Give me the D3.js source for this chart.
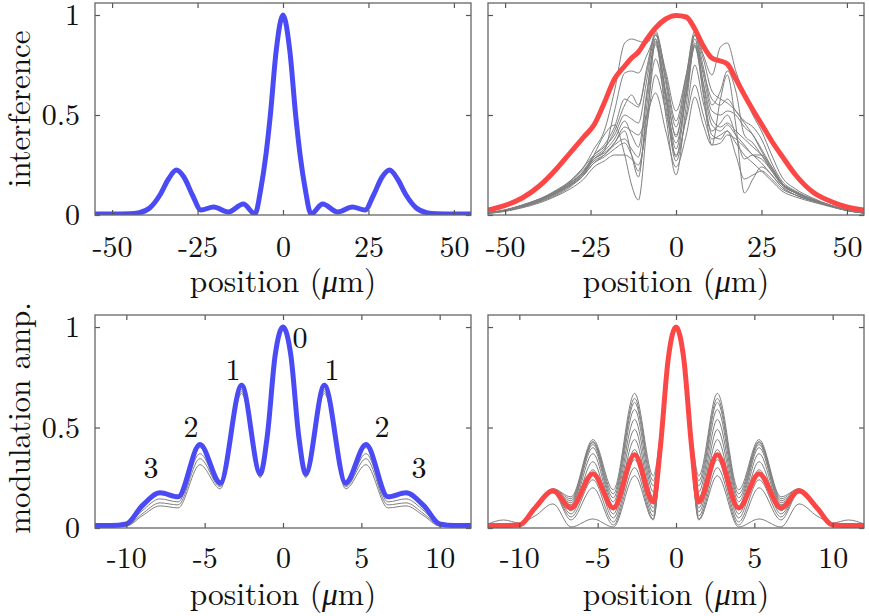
<!DOCTYPE html>
<html>
<head>
<meta charset="utf-8">
<script src="https://cdn.jsdelivr.net/npm/d3@7"></script>
<style>
body { margin: 0; background: #fff; }
</style>
</head>
<body>
<svg width="869" height="616"></svg>
<script>
// ---- data ----
var yTicks = [0, 0.5, 1];
var xTicksWide = [-50, -25, 0, 25, 50];
var xTicksNarrow = [-10, -5, 0, 5, 10];

// top left: interference, simulated
var xTL = [-55,-50,-45,-42,-39,-36,-33.5,-31.2,-29,-26.5,-24,-20.3,-16,-11.6,-8.2,-6.5,-5,-3.7,-2,0,2,3.7,5,6.5,8.2,11.6,16,20.3,24,26.5,29,31.2,33.5,36,39,42,45,50,55];
var blueTL = [0.005,0.005,0.006,0.012,0.035,0.1,0.18,0.225,0.19,0.1,0.025,0.04,0.015,0.055,0.005,0.13,0.3,0.5,0.82,1.0,0.82,0.5,0.3,0.13,0.005,0.055,0.015,0.04,0.025,0.1,0.19,0.225,0.18,0.1,0.035,0.012,0.006,0.005,0.005];
var grayTL1 = [0.004,0.004,0.005,0.01,0.03,0.09,0.17,0.215,0.185,0.095,0.022,0.038,0.014,0.05,0.004,0.12,0.29,0.49,0.8,0.975,0.8,0.49,0.29,0.12,0.004,0.05,0.014,0.038,0.022,0.095,0.185,0.215,0.17,0.09,0.03,0.01,0.005,0.004,0.004];
var grayTL2 = [0.004,0.005,0.007,0.014,0.04,0.105,0.185,0.22,0.2,0.11,0.03,0.042,0.018,0.052,0.006,0.125,0.3,0.49,0.81,0.985,0.81,0.49,0.3,0.125,0.006,0.052,0.018,0.042,0.03,0.11,0.2,0.22,0.185,0.105,0.04,0.014,0.007,0.005,0.004];

// top right: interference, measured
var xTR = [-55,-50,-45,-40,-35,-31,-27,-24,-21,-18,-15,-13,-11,-8.5,-6,-3,0,3,5.5,8,10.5,13,15,17.5,20,22.5,25,28,31,35,40,45,50,55];
var redTR = [0.025,0.048,0.085,0.145,0.23,0.31,0.39,0.45,0.56,0.68,0.745,0.785,0.815,0.88,0.935,0.98,0.998,0.99,0.93,0.845,0.785,0.77,0.755,0.68,0.6,0.525,0.455,0.37,0.295,0.2,0.115,0.07,0.04,0.025];
var grayTR1 = [0.010,0.022,0.045,0.075,0.115,0.16,0.22,0.29,0.33,0.42,0.55,0.6,0.55,0.72,0.9,0.72,0.52,0.7,0.9,0.78,0.62,0.58,0.56,0.52,0.47,0.44,0.38,0.26,0.17,0.12,0.08,0.05,0.025,0.01];
var grayTR2 = [0.012,0.025,0.05,0.08,0.12,0.17,0.24,0.33,0.42,0.62,0.86,0.88,0.87,0.86,0.92,0.7,0.47,0.7,0.92,0.8,0.7,0.84,0.86,0.72,0.6,0.5,0.42,0.3,0.19,0.13,0.085,0.05,0.025,0.012];
var grayTR3 = [0.008,0.02,0.04,0.07,0.11,0.15,0.2,0.3,0.4,0.45,0.3,0.15,0.075,0.45,0.87,0.5,0.2,0.55,0.85,0.6,0.35,0.58,0.7,0.45,0.11,0.18,0.24,0.2,0.14,0.1,0.07,0.045,0.022,0.01];
var grayTR4 = [0.01,0.022,0.042,0.07,0.11,0.15,0.21,0.27,0.3,0.35,0.38,0.33,0.29,0.6,0.88,0.6,0.33,0.62,0.88,0.65,0.45,0.42,0.45,0.4,0.35,0.3,0.28,0.22,0.15,0.11,0.075,0.048,0.025,0.01];
var grayTR5 = [0.012,0.026,0.05,0.08,0.125,0.17,0.24,0.3,0.34,0.4,0.5,0.48,0.46,0.68,0.9,0.68,0.44,0.68,0.9,0.7,0.52,0.5,0.52,0.5,0.44,0.4,0.33,0.24,0.16,0.115,0.078,0.05,0.026,0.012];
var grayTR6 = [0.009,0.02,0.04,0.065,0.1,0.14,0.2,0.26,0.3,0.36,0.42,0.3,0.19,0.55,0.85,0.58,0.36,0.6,0.84,0.62,0.4,0.38,0.42,0.3,0.18,0.2,0.22,0.18,0.13,0.1,0.07,0.045,0.022,0.01];
var grayTR7 = [0.011,0.024,0.046,0.075,0.12,0.165,0.23,0.28,0.32,0.52,0.71,0.72,0.71,0.8,0.88,0.62,0.4,0.64,0.86,0.72,0.58,0.55,0.58,0.52,0.46,0.4,0.32,0.23,0.16,0.115,0.078,0.05,0.026,0.012];
var grayTR8 = [0.008,0.018,0.036,0.06,0.095,0.13,0.18,0.24,0.27,0.3,0.3,0.28,0.25,0.45,0.7,0.52,0.3,0.48,0.65,0.5,0.38,0.4,0.42,0.36,0.3,0.26,0.22,0.17,0.12,0.09,0.065,0.042,0.022,0.009];
var grayTR9 = [0.01,0.022,0.044,0.072,0.11,0.15,0.21,0.28,0.31,0.36,0.44,0.42,0.4,0.5,0.61,0.42,0.24,0.4,0.59,0.45,0.35,0.36,0.4,0.38,0.34,0.3,0.26,0.2,0.14,0.1,0.07,0.046,0.023,0.01];
var grayTR10 = [0.011,0.024,0.048,0.078,0.12,0.16,0.22,0.3,0.35,0.44,0.58,0.56,0.54,0.74,0.91,0.66,0.39,0.66,0.9,0.74,0.55,0.62,0.72,0.62,0.4,0.36,0.3,0.22,0.15,0.11,0.075,0.048,0.024,0.011];
var grayTR11 = [0.01,0.023,0.045,0.073,0.115,0.155,0.215,0.28,0.32,0.38,0.47,0.4,0.34,0.62,0.86,0.6,0.29,0.6,0.85,0.66,0.48,0.44,0.46,0.42,0.38,0.34,0.3,0.23,0.155,0.11,0.075,0.048,0.024,0.01];
var grayTR12 = [0.009,0.021,0.041,0.068,0.105,0.145,0.2,0.26,0.29,0.33,0.36,0.3,0.22,0.5,0.78,0.55,0.27,0.5,0.75,0.56,0.42,0.46,0.5,0.4,0.28,0.3,0.3,0.24,0.16,0.11,0.075,0.048,0.024,0.01];

// bottom panels: modulation amplitude
var xMod = [-12,-11,-10,-9,-7.85,-6.7,-5.3,-4.0,-2.64,-1.45,-1.0,-0.5,0,0.5,1.0,1.45,2.64,4.0,5.3,6.7,7.85,9,10,11,12];
var blueBL = [0.012,0.012,0.02,0.11,0.175,0.155,0.415,0.225,0.71,0.27,0.46,0.86,1,0.86,0.46,0.27,0.71,0.225,0.415,0.155,0.175,0.11,0.02,0.012,0.012];
var grayBL1 = [0.012,0.012,0.02,0.105,0.17,0.15,0.4,0.215,0.7,0.265,0.455,0.855,0.995,0.855,0.455,0.265,0.7,0.215,0.4,0.15,0.17,0.105,0.02,0.012,0.012];
var grayBL2 = [0.01,0.01,0.015,0.085,0.145,0.13,0.37,0.21,0.69,0.26,0.45,0.85,0.99,0.85,0.45,0.26,0.69,0.21,0.37,0.13,0.145,0.085,0.015,0.01,0.01];
var grayBL3 = [0.01,0.01,0.012,0.07,0.125,0.115,0.345,0.205,0.68,0.255,0.445,0.85,0.99,0.85,0.445,0.255,0.68,0.205,0.345,0.115,0.125,0.07,0.012,0.01,0.01];
var grayBL4 = [0.01,0.01,0.01,0.06,0.11,0.1,0.315,0.195,0.67,0.25,0.44,0.845,0.985,0.845,0.44,0.25,0.67,0.195,0.315,0.1,0.11,0.06,0.01,0.01,0.01];

var redBR = [0.012,0.012,0.015,0.1,0.185,0.1,0.27,0.1,0.365,0.13,0.4,0.84,1,0.84,0.4,0.13,0.365,0.1,0.27,0.1,0.185,0.1,0.015,0.012,0.012];
var grayBR1 = [0.012,0.02,0.02,0.1,0.195,0.155,0.44,0.19,0.67,0.26,0.47,0.86,1,0.86,0.47,0.26,0.67,0.19,0.44,0.155,0.195,0.1,0.02,0.02,0.012];
var grayBR2 = [0.012,0.018,0.02,0.1,0.195,0.145,0.43,0.17,0.645,0.235,0.45,0.855,1,0.855,0.45,0.235,0.645,0.17,0.43,0.145,0.195,0.1,0.02,0.018,0.012];
var grayBR3 = [0.012,0.016,0.02,0.1,0.19,0.135,0.425,0.15,0.625,0.21,0.44,0.85,1,0.85,0.44,0.21,0.625,0.15,0.425,0.135,0.19,0.1,0.02,0.016,0.012];
var grayBR4 = [0.012,0.015,0.02,0.1,0.19,0.125,0.415,0.13,0.59,0.18,0.42,0.845,1,0.845,0.42,0.18,0.59,0.13,0.415,0.125,0.19,0.1,0.02,0.015,0.012];
var grayBR5 = [0.012,0.015,0.02,0.1,0.19,0.115,0.4,0.11,0.54,0.15,0.4,0.84,1,0.84,0.4,0.15,0.54,0.11,0.4,0.115,0.19,0.1,0.02,0.015,0.012];
var grayBR6 = [0.012,0.015,0.018,0.098,0.185,0.1,0.37,0.09,0.49,0.12,0.38,0.835,1,0.835,0.38,0.12,0.49,0.09,0.37,0.1,0.185,0.098,0.018,0.015,0.012];
var grayBR7 = [0.012,0.015,0.018,0.095,0.185,0.085,0.33,0.07,0.44,0.1,0.37,0.83,1,0.83,0.37,0.1,0.44,0.07,0.33,0.085,0.185,0.095,0.018,0.015,0.012];
var grayBR8 = [0.012,0.015,0.016,0.093,0.18,0.07,0.29,0.05,0.39,0.08,0.36,0.83,1,0.83,0.36,0.08,0.39,0.05,0.29,0.07,0.18,0.093,0.016,0.015,0.012];
var grayBR9 = [0.012,0.015,0.016,0.09,0.18,0.055,0.24,0.03,0.34,0.06,0.35,0.825,1,0.825,0.35,0.06,0.34,0.03,0.24,0.055,0.18,0.09,0.016,0.015,0.012];
var grayBR10 = [0.012,0.015,0.015,0.09,0.175,0.04,0.2,0.015,0.3,0.045,0.34,0.82,1,0.82,0.34,0.045,0.3,0.015,0.2,0.04,0.175,0.09,0.015,0.015,0.012];
var grayBR11 = [0.02,0.04,0.025,0.06,0.12,0.005,0.045,0.005,0.26,0.04,0.34,0.82,1,0.82,0.34,0.04,0.26,0.005,0.045,0.005,0.12,0.06,0.025,0.04,0.02];

// order labels in the lower left panel
var orderText = ['3','2','1','0','1','2','3'];
var orderX = [-8.42,-5.87,-3.19,1.08,3.13,6.32,8.68];
var orderY = [0.3,0.507,0.79,0.95,0.79,0.507,0.3];

// ---- drawing ----
var svg = d3.select('svg');
var FONT = '"Latin Modern Roman", "Liberation Serif"';

function fmt(d) { return String(d); }
function blank() { return ''; }

function panel(o) {
  var x = d3.scaleLinear().domain(o.xdom).range(o.xr);
  var y = d3.scaleLinear().domain([0, 1.06]).range(o.yr);
  var g = svg.append('g');

  svg.append('clipPath').attr('id', 'clip' + o.name).append('rect')
    .attr('x', o.xr[0]).attr('y', o.yr[1])
    .attr('width', o.xr[1] - o.xr[0]).attr('height', o.yr[0] - o.yr[1]);

  var line = d3.line()
    .x(function(d, i) { return x(o.xs[i]); })
    .y(function(d) { return y(d); })
    .curve(d3.curveMonotoneX);

  var lines = g.append('g').attr('clip-path', 'url(#clip' + o.name + ')');
  lines.selectAll('path.gray').data(o.grays).enter().append('path')
    .attr('class', 'gray').attr('d', line)
    .attr('fill', 'none').attr('stroke', '#7f7f7f').attr('stroke-width', 1);
  lines.append('path').datum(o.main).attr('d', line)
    .attr('fill', 'none').attr('stroke', o.color).attr('stroke-width', 5)
    .attr('stroke-linejoin', 'round');

  var ax = g.append('g');
  ax.append('g').attr('transform', 'translate(0,' + o.yr[0] + ')')
    .call(d3.axisBottom(x).tickValues(o.xticks).tickSizeInner(-5).tickSizeOuter(0)
      .tickPadding(o.xpad).tickFormat(fmt));
  ax.append('g').attr('transform', 'translate(0,' + o.yr[1] + ')')
    .call(d3.axisTop(x).tickValues(o.xticks).tickSizeInner(-5).tickSizeOuter(0).tickFormat(blank));
  ax.append('g').attr('transform', 'translate(' + o.xr[0] + ',0)')
    .call(d3.axisLeft(y).tickValues(yTicks).tickSizeInner(-5).tickSizeOuter(0)
      .tickPadding(15).tickFormat(o.ylabels ? fmt : blank));
  ax.append('g').attr('transform', 'translate(' + o.xr[1] + ',0)')
    .call(d3.axisRight(y).tickValues(yTicks).tickSizeInner(-5).tickSizeOuter(0).tickFormat(blank));
  ax.selectAll('.domain').remove();
  ax.selectAll('g').attr('font-size', 30);
  ax.selectAll('line').attr('stroke', '#555').attr('stroke-width', 1.2);
  ax.selectAll('text').attr('fill', '#111');

  g.append('rect')
    .attr('x', o.xr[0]).attr('y', o.yr[1])
    .attr('width', o.xr[1] - o.xr[0]).attr('height', o.yr[0] - o.yr[1])
    .attr('fill', 'none').attr('stroke', '#666').attr('stroke-width', 1.3);

  var t = g.append('text')
    .attr('x', (o.xr[0] + o.xr[1]) / 2).attr('y', o.titleY)
    .attr('text-anchor', 'middle').attr('font-size', 31.5);
  t.append('tspan').text('position (');
  t.append('tspan').attr('font-style', 'italic').text('\u03bc');
  t.append('tspan').text('m)');

  return { x: x, y: y, g: g };
}

var L = [95, 471], R = [488, 864];
var T = [215, 3], B = [528, 315];

panel({ name: 'tl', xr: L, yr: T, xdom: [-55, 55], xs: xTL, xticks: xTicksWide,
  grays: [grayTL1, grayTL2], main: blueTL, color: '#4b4bf5', ylabels: true, xpad: 21, titleY: 292 });
panel({ name: 'tr', xr: R, yr: T, xdom: [-55, 55], xs: xTR, xticks: xTicksWide,
  grays: [grayTR1, grayTR2, grayTR3, grayTR4, grayTR5, grayTR6, grayTR7, grayTR8, grayTR9, grayTR10, grayTR11, grayTR12],
  main: redTR, color: '#fc4747', ylabels: false, xpad: 21, titleY: 292 });
var bl = panel({ name: 'bl', xr: L, yr: B, xdom: [-12, 12], xs: xMod, xticks: xTicksNarrow,
  grays: [grayBL1, grayBL2, grayBL3, grayBL4], main: blueBL, color: '#4b4bf5', ylabels: true, xpad: 19, titleY: 605 });
panel({ name: 'br', xr: R, yr: B, xdom: [-12, 12], xs: xMod, xticks: xTicksNarrow,
  grays: [grayBR1, grayBR2, grayBR3, grayBR4, grayBR5, grayBR6, grayBR7, grayBR8, grayBR9, grayBR10, grayBR11],
  main: redBR, color: '#fc4747', ylabels: false, xpad: 19, titleY: 605 });

bl.g.selectAll('text.order').data(orderText).enter().append('text')
  .attr('class', 'order')
  .attr('x', function(d, i) { return bl.x(orderX[i]); })
  .attr('y', function(d, i) { return bl.y(orderY[i]); })
  .attr('dy', '0.35em').attr('text-anchor', 'middle').attr('font-size', 30)
  .text(function(d) { return d; });

svg.append('text').attr('transform', 'translate(30,109) rotate(-90)')
  .attr('text-anchor', 'middle').attr('font-size', 31).text('interference');
svg.append('text').attr('transform', 'translate(30,418) rotate(-90)')
  .attr('text-anchor', 'middle').attr('font-size', 31).text('modulation amp.');

svg.selectAll('text').style('font-family', FONT).style('fill', '#111');
</script>
</body>
</html>
